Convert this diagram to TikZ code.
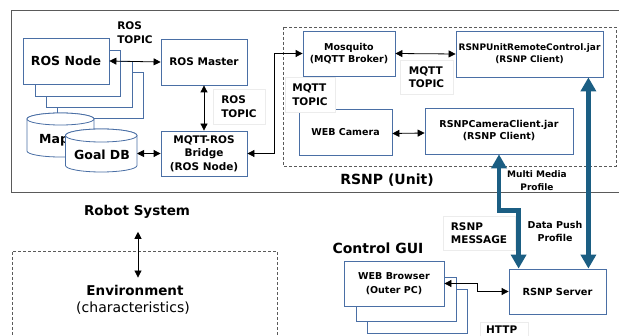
\documentclass[tikz,border=0pt]{standalone}
\usepackage{fontspec}
\setmainfont{DejaVu Sans}
\usetikzlibrary{arrows.meta}

\definecolor{boxblue}{HTML}{4A6FA5}
\definecolor{linkteal}{HTML}{1B5E83}
\definecolor{framegray}{HTML}{5A5A5A}

\newcommand{\fsz}[2]{\fontsize{#1}{#2}\selectfont}

\tikzset{
  unitbox/.style={draw=boxblue, line width=0.8pt, fill=white, inner sep=0pt,
                  align=center, font=\bfseries\fsz{9.5}{12}},
  tag/.style={draw=gray!15, line width=0.6pt, fill=white, inner sep=0pt,
              align=left, font=\bfseries\fsz{10.5}{13.5}},
  plain/.style={inner sep=0pt, align=center, font=\bfseries\fsz{9.5}{13}},
  dbl/.style={{Triangle[length=7pt,width=7pt]}-{Triangle[length=7pt,width=7pt]},
              line width=0.8pt, black},
  bigdbl/.style={{Triangle[length=14pt,width=15pt]}-{Triangle[length=14pt,width=15pt]},
                 line width=4.5pt, linkteal, line join=miter},
  dbcyl/.style={draw=boxblue, line width=0.8pt, fill=white},
}

\begin{document}
\begin{tikzpicture}[x=1pt, y=-1pt]
\useasboundingbox (0,0) rectangle (619,336);

% robot system frame and RSNP unit area
\draw[framegray, line width=1pt] (640,11) -- (11,11) -- (11,193) -- (640,193);
\draw[framegray, line width=0.7pt, dash pattern=on 3pt off 2pt] (283,27) rectangle (616,166);

% environment area
\draw[framegray, line width=0.7pt, dash pattern=on 3pt off 2pt] (277,345) -- (277,251) -- (12,251) -- (12,345);

% stack of ROS nodes
\node[unitbox, minimum width=86, minimum height=46] (rosnode4) at (100,95) {};
\node[unitbox, minimum width=86, minimum height=46] (rosnode3) at (89,84) {};
\node[unitbox, minimum width=85, minimum height=46] (rosnode2) at (77.5,73) {};
\node[unitbox, minimum width=86, minimum height=46, font=\bfseries\fsz{12.5}{15}] (rosnode) at (66,61) {ROS Node};

% Map database
\draw[dbcyl] (27,119) -- (27,151) arc[start angle=180, end angle=0, x radius=33.5, y radius=6]
  -- (94,119) arc[start angle=0, end angle=-180, x radius=33.5, y radius=6] -- cycle;
\draw[dbcyl] (60.5,119) ellipse[x radius=33.5, y radius=6];
\node[plain, anchor=west, font=\bfseries\fsz{12.5}{15}] (map) at (39,140) {Map};

% Goal database
\draw[dbcyl] (65.5,135.5) -- (65.5,165.5) arc[start angle=180, end angle=0, x radius=35.75, y radius=6.5]
  -- (137,135.5) arc[start angle=0, end angle=-180, x radius=35.75, y radius=6.5] -- cycle;
\draw[dbcyl] (101.25,135.5) ellipse[x radius=35.75, y radius=6.5];
\node[plain, font=\bfseries\fsz{12.5}{15}] (goaldb) at (102,155) {Goal\,\,DB};
\coordinate (goaldbE) at (137,153.5);

% ROS side
\node[unitbox, minimum width=86, minimum height=46, font=\bfseries\fsz{10.5}{13}] (master) at (204,62) {ROS Master};
\node[unitbox, minimum width=86, minimum height=45, font=\bfseries\fsz{10.5}{13.5}] (bridge) at (204,153.5) {MQTT-ROS\\Bridge\\(ROS Node)};

\node[tag, anchor=west, draw=none, fill=none] (rostopicA) at (117,32.5) {ROS\\TOPIC};
\node[tag, minimum width=52, minimum height=35] (rostopicB) at (239,106.5) {ROS\\TOPIC};

% RSNP unit
\node[unitbox, minimum width=92, minimum height=45] (mosquito) at (349,53.5) {Mosquito\\(MQTT Broker)};
\node[unitbox, minimum width=147, minimum height=46, font=\bfseries\fsz{9}{12}] (remote) at (529.5,54) {RSNPUnitRemoteControl.jar\\(RSNP Client)};
\node[unitbox, minimum width=93, minimum height=46] (webcam) at (345.5,132) {WEB Camera};
\node[unitbox, minimum width=148, minimum height=46] (camclient) at (499,131) {RSNPCameraClient.jar\\(RSNP Client)};

\node[tag, minimum width=53, minimum height=34] (mqtttopicA) at (426.5,77) {MQTT\\TOPIC};
\node[tag, minimum width=50, minimum height=35] (mqtttopicB) at (310,94.5) {MQTT\\TOPIC};

\node[plain, font=\bfseries\fsz{14}{16}] (unitlabel) at (387,180) {RSNP (Unit)};
\node[plain, font=\bfseries\fsz{9}{13}] (mmprofile) at (537,180.5) {Multi Media\\Profile};

% control GUI and server
\node[plain, font=\bfseries\fsz{14}{16}] (gui) at (378,248) {Control GUI};
\node[unitbox, minimum width=100, minimum height=44] (browser3) at (417,311) {};
\node[unitbox, minimum width=100, minimum height=44] (browser2) at (406,299) {};
\node[unitbox, minimum width=100, minimum height=45, font=\bfseries\fsz{9.5}{14}] (browser) at (394,283.5) {WEB Browser\\(Outer PC)};
\node[unitbox, minimum width=97, minimum height=45, font=\bfseries\fsz{9.8}{12}] (server) at (557.5,291.5) {RSNP Server};

\node[tag, minimum width=72, minimum height=34] (rsnpmsg) at (479,233) {RSNP\\MESSAGE};
\node[plain, font=\bfseries\fsz{9.5}{13}] (dpprofile) at (555,231.5) {Data Push\\Profile};
\node[tag, minimum width=48, minimum height=28, anchor=north west] (http) at (480,322) {};
\node[plain, font=\bfseries\fsz{10.5}{13}, anchor=west] (httptext) at (486,330) {HTTP};

% robot system and environment
\node[plain, font=\bfseries\fsz{13.5}{16}] (robotsys) at (137,212) {Robot System};
\node[plain, font=\bfseries\fsz{13.5}{16}] (env) at (135,290) {Environment};
\node[inner sep=0pt, font=\fsz{14}{16}] (envchar) at (133,308) {(characteristics)};

% connectors
\draw[dbl] (rosnode.east) -- (master.west);
\draw[dbl] (master.south) -- (bridge.north);
\draw[dbl] (goaldbE) -- (bridge.west);
\draw[dbl] (bridge.east) -- ++(27,0) |- (mosquito.west);
\draw[dbl] (mosquito.east) -- (remote.west);
\draw[dbl] ([yshift=-1.5pt]webcam.east) -- ([yshift=-2pt]camclient.west);
\draw[dbl] (browser.east) -- ++(33,0) |- (server.west);
\draw[dbl, shorten <=13pt, shorten >=7pt] ([xshift=1pt]robotsys.south) -- ([xshift=1pt]robotsys.south |- env.north);

\draw[bigdbl] (camclient.south) -- ++(0,56) -| ([xshift=10pt]server.north west);
\draw[bigdbl] ([xshift=-15pt]remote.south east) -- ([xshift=-18pt]server.north east);

\end{tikzpicture}
\end{document}
